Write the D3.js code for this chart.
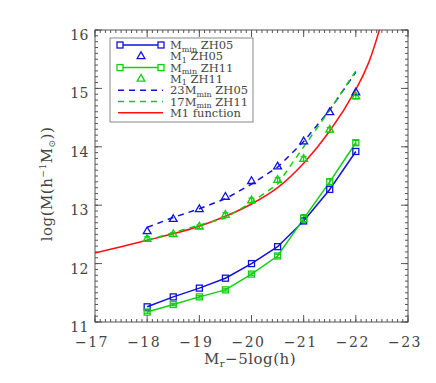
<!DOCTYPE html>
<html>
<head>
<style>
  body { margin: 0; background: #fff; }
  text { font-family: "DejaVu Serif", "Liberation Serif", serif; fill: #444; }
</style>
</head>
<body>
<script src="https://cdn.jsdelivr.net/npm/d3@7"></script>
<script>
var W = 436, H = 383;
var mags = [-18, -18.5, -19, -19.5, -20, -20.5, -21, -21.5, -22];
var mminZH05 = [11.26, 11.43, 11.58, 11.75, 12.00, 12.29, 12.73, 13.27, 13.92];
var m1ZH05 = [12.55, 12.76, 12.93, 13.14, 13.41, 13.66, 14.09, 14.59, 14.93];
var mminZH11 = [11.17, 11.30, 11.43, 11.55, 11.82, 12.13, 12.77, 13.40, 14.07];
var mminZH11Err = [0.02, 0.02, 0.02, 0.02, 0.02, 0.03, 0.07, 0.05, 0.04];
var m1ZH11 = [12.42, 12.50, 12.63, 12.83, 13.08, 13.43, 13.79, 14.29, 14.86];
var m1ZH11Err = [0.04, 0.03, 0.03, 0.04, 0.04, 0.04, 0.04, 0.04, 0.04];
var dash23ZH05 = [12.62, 12.79, 12.94, 13.11, 13.36, 13.65, 14.09, 14.63, 15.28];
var dash17ZH11 = [12.40, 12.53, 12.66, 12.78, 13.05, 13.36, 14.00, 14.63, 15.30];
var m1FuncMag = [-17, -17.5, -18, -18.5, -19, -19.5, -20, -20.5, -21, -21.5, -22, -22.25, -22.5];
var m1FuncVal = [12.18, 12.29, 12.40, 12.51, 12.64, 12.81, 13.02, 13.30, 13.72, 14.27, 14.98, 15.45, 16.15];
var xTicks = [-17, -18, -19, -20, -21, -22, -23];
var yTicks = [11, 12, 13, 14, 15, 16];

var blue = '#1010e0', green = '#10d010', red = '#ff1010';
var pL = 95, pR = 408, pT = 30, pB = 322;

var svg = d3.select('body').append('svg').attr('width', W).attr('height', H);

var x = d3.scaleLinear().domain([-17, -23]).range([pL, pR]);
var y = d3.scaleLinear().domain([11, 16]).range([pB, pT]);

svg.append('defs').append('clipPath').attr('id', 'clip')
  .append('rect').attr('x', pL).attr('y', pT)
  .attr('width', pR - pL).attr('height', pB - pT);

// axes box with major and minor ticks on all four sides
var minorX = d3.range(-17, -23.001, -0.1), minorY = d3.range(11, 16.001, 0.1);
function tickLines(g, vals, scale, horizontal, pos, dir, len) {
  g.selectAll(null).data(vals).enter().append('line')
    .attr('x1', function (d) { return horizontal ? scale(d) : pos; })
    .attr('x2', function (d) { return horizontal ? scale(d) : pos + dir * len; })
    .attr('y1', function (d) { return horizontal ? pos : scale(d); })
    .attr('y2', function (d) { return horizontal ? pos + dir * len : scale(d); })
    .attr('stroke', '#555').attr('stroke-width', 1);
}
var ax = svg.append('g');
ax.append('rect').attr('x', pL).attr('y', pT).attr('width', pR - pL)
  .attr('height', pB - pT).attr('fill', 'none').attr('stroke', '#555');
tickLines(ax, minorX, x, true, pB, -1, 3);
tickLines(ax, minorX, x, true, pT, 1, 3);
tickLines(ax, xTicks, x, true, pB, -1, 7);
tickLines(ax, xTicks, x, true, pT, 1, 7);
tickLines(ax, minorY, y, false, pL, 1, 3);
tickLines(ax, minorY, y, false, pR, -1, 3);
tickLines(ax, yTicks, y, false, pL, 1, 7);
tickLines(ax, yTicks, y, false, pR, -1, 7);

ax.selectAll('.xl').data(xTicks).enter().append('text')
  .attr('x', function (d) { return x(d) - 3; }).attr('y', 347)
  .attr('text-anchor', 'middle').attr('font-size', 14).attr('letter-spacing', 1.5)
  .text(function (d) { return '\u2212' + Math.abs(d); });
ax.selectAll('.yl').data(yTicks).enter().append('text')
  .attr('x', 89).attr('y', function (d) { return y(d) + 10; })
  .attr('text-anchor', 'end').attr('font-size', 14).attr('letter-spacing', 0.5)
  .text(function (d) { return d; });

var xt = svg.append('text').attr('x', 250).attr('y', 364)
  .attr('text-anchor', 'middle').attr('font-size', 15).attr('letter-spacing', 0.5);
xt.append('tspan').text('M');
xt.append('tspan').attr('font-size', 10).attr('dy', 3).text('r');
xt.append('tspan').attr('dy', -3).text('\u22125log(h)');

var yt = svg.append('text').attr('transform', 'translate(52,184) rotate(-90)')
  .attr('text-anchor', 'middle').attr('font-size', 15).attr('letter-spacing', 0.5);
yt.append('tspan').text('log(M(h');
yt.append('tspan').attr('font-size', 9).attr('dy', -6).text('\u22121');
yt.append('tspan').attr('dy', 6).text('M');
yt.append('tspan').attr('font-size', 9).attr('dy', 3).text('\u2299');
yt.append('tspan').attr('dy', -3).text('))');

var plot = svg.append('g').attr('clip-path', 'url(#clip)');
var line = d3.line().x(function (d) { return x(d[0]); }).y(function (d) { return y(d[1]); });
function pairs(xs, ys) { return xs.map(function (m, i) { return [m, ys[i]]; }); }

plot.append('path').datum(pairs(m1FuncMag, m1FuncVal))
  .attr('d', line.curve(d3.curveCatmullRom)).attr('fill', 'none')
  .attr('stroke', red).attr('stroke-width', 1.5);
line.curve(d3.curveLinear);
plot.append('path').datum(pairs(mags, dash23ZH05)).attr('d', line).attr('fill', 'none')
  .attr('stroke', blue).attr('stroke-width', 1.5).attr('stroke-dasharray', '6,5');
plot.append('path').datum(pairs(mags, dash17ZH11)).attr('d', line).attr('fill', 'none')
  .attr('stroke', green).attr('stroke-width', 1.5).attr('stroke-dasharray', '6,5');
plot.append('path').datum(pairs(mags, mminZH05)).attr('d', line).attr('fill', 'none')
  .attr('stroke', blue).attr('stroke-width', 1.5);
plot.append('path').datum(pairs(mags, mminZH11)).attr('d', line).attr('fill', 'none')
  .attr('stroke', green).attr('stroke-width', 1.5);

function errBars(vals, errs, color) {
  var g = plot.append('g').attr('stroke', color).attr('stroke-width', 1.2);
  vals.forEach(function (v, i) {
    var cx = x(mags[i]);
    g.append('line').attr('x1', cx).attr('x2', cx).attr('y1', y(v - errs[i])).attr('y2', y(v + errs[i]));
    g.append('line').attr('x1', cx - 3).attr('x2', cx + 3).attr('y1', y(v - errs[i])).attr('y2', y(v - errs[i]));
    g.append('line').attr('x1', cx - 3).attr('x2', cx + 3).attr('y1', y(v + errs[i])).attr('y2', y(v + errs[i]));
  });
}
errBars(m1ZH11, m1ZH11Err, green);
errBars(mminZH11, mminZH11Err, green);

function squares(vals, color) {
  plot.selectAll(null).data(vals).enter().append('rect')
    .attr('x', function (d, i) { return x(mags[i]) - 3; })
    .attr('y', function (d) { return y(d) - 3; })
    .attr('width', 6).attr('height', 6).attr('fill', 'none')
    .attr('stroke', color).attr('stroke-width', 1.3);
}
function triangles(vals, color) {
  var tri = d3.symbol().type(d3.symbolTriangle).size(26);
  plot.selectAll(null).data(vals).enter().append('path')
    .attr('d', tri)
    .attr('transform', function (d, i) { return 'translate(' + x(mags[i]) + ',' + y(d) + ')'; })
    .attr('fill', 'none').attr('stroke', color).attr('stroke-width', 1.3);
}
squares(mminZH05, blue);
squares(mminZH11, green);
triangles(m1ZH05, blue);
triangles(m1ZH11, green);

// legend
var leg = svg.append('g');
leg.append('rect').attr('x', 110).attr('y', 38).attr('width', 143).attr('height', 84)
  .attr('fill', '#fff').attr('stroke', '#888');
var entries = [
  { main: 'M', sub: 'min', rest: ' ZH05', color: blue, kind: 'sq' },
  { main: 'M', sub: '1', rest: ' ZH05', color: blue, kind: 'tri' },
  { main: 'M', sub: 'min', rest: ' ZH11', color: green, kind: 'sq' },
  { main: 'M', sub: '1', rest: ' ZH11', color: green, kind: 'tri' },
  { main: '23M', sub: 'min', rest: ' ZH05', color: blue, kind: 'dash' },
  { main: '17M', sub: 'min', rest: ' ZH11', color: green, kind: 'dash' },
  { main: 'M1 function', sub: '', rest: '', color: red, kind: 'line' }
];
entries.forEach(function (e, i) {
  var ly = 45 + i * 11.3;
  var g = leg.append('g');
  if (e.kind === 'sq') {
    g.append('line').attr('x1', 120).attr('x2', 161).attr('y1', ly).attr('y2', ly)
      .attr('stroke', e.color).attr('stroke-width', 1.5);
    [120, 161].forEach(function (sx) {
      g.append('rect').attr('x', sx - 3).attr('y', ly - 3).attr('width', 6).attr('height', 6)
        .attr('fill', '#fff').attr('stroke', e.color).attr('stroke-width', 1.3);
    });
  } else if (e.kind === 'tri') {
    g.append('path').attr('d', d3.symbol().type(d3.symbolTriangle).size(26))
      .attr('transform', 'translate(141,' + ly + ')')
      .attr('fill', 'none').attr('stroke', e.color).attr('stroke-width', 1.3);
  } else {
    g.append('line').attr('x1', 118).attr('x2', 163).attr('y1', ly).attr('y2', ly)
      .attr('stroke', e.color).attr('stroke-width', 1.5)
      .attr('stroke-dasharray', e.kind === 'dash' ? '6,5' : null);
  }
  var t = g.append('text').attr('x', 170).attr('y', ly + 4).attr('font-size', 11.5);
  t.append('tspan').text(e.main);
  if (e.sub) {
    t.append('tspan').attr('font-size', 8).attr('dy', 2.5).text(e.sub);
    t.append('tspan').attr('dy', -2.5).text(e.rest);
  }
});
</script>
</body>
</html>
